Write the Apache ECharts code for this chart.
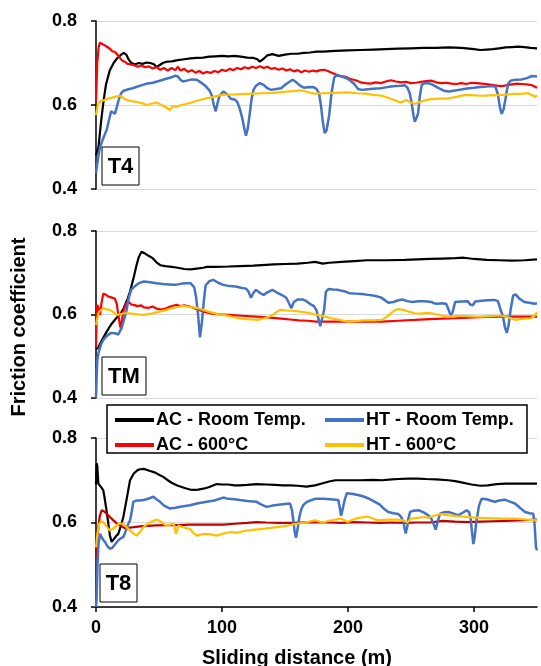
<!DOCTYPE html>
<html>
<head>
<meta charset="utf-8">
<script src="https://cdn.jsdelivr.net/npm/echarts@6/dist/echarts.min.js"></script>
<style>
html,body{margin:0;padding:0;background:#fff;}
#chart{width:541px;height:666px;}
</style>
</head>
<body>
<div id="chart"></div>
<script>
// ---------- DATA (sliding distance m, friction coefficient) ----------
const seriesNames = ['AC - Room Temp.', 'HT - Room Temp.', 'AC - 600°C', 'HT - 600°C'];
const panelLabels = ['T4', 'TM', 'T8'];
const xTicks = [0, 100, 200, 300];
const yTicks = [0.4, 0.6, 0.8];

// T4
const t4_acRT = [[0,0.48],[1,0.49],[2,0.50],[4,0.56],[6,0.61],[8,0.65],[11,0.683],[14,0.700],[17,0.712],[20,0.720],[22,0.724],[24,0.720],[26,0.708],[28,0.700],[31,0.697],[34,0.700],[37,0.698],[40,0.701],[43,0.700],[46,0.697],[48,0.690],[50,0.694],[53,0.700],[56,0.703],[60,0.704],[65,0.707],[70,0.709],[75,0.711],[80,0.712],[85,0.713],[90,0.715],[95,0.716],[100,0.717],[105,0.716],[110,0.717],[115,0.715],[120,0.713],[125,0.712],[128,0.709],[130,0.703],[133,0.710],[136,0.718],[140,0.721],[145,0.717],[150,0.720],[155,0.722],[160,0.722],[165,0.724],[170,0.725],[175,0.727],[180,0.727],[190,0.729],[200,0.730],[210,0.731],[220,0.732],[230,0.733],[240,0.734],[250,0.735],[260,0.736],[270,0.736],[280,0.737],[290,0.736],[300,0.733],[305,0.731],[310,0.732],[315,0.733],[320,0.735],[325,0.737],[330,0.738],[335,0.739],[340,0.738],[345,0.736],[350,0.735]];
const t4_ac600 = [[0,0.61],[1,0.70],[2,0.735],[3,0.748],[4,0.750],[5,0.745],[7,0.742],[9,0.738],[11,0.734],[13,0.728],[15,0.726],[17,0.720],[19,0.712],[21,0.705],[23,0.703],[25,0.698],[27,0.697],[30,0.695],[33,0.691],[36,0.694],[39,0.690],[42,0.692],[45,0.687],[48,0.690],[51,0.684],[54,0.688],[57,0.682],[60,0.688],[63,0.683],[65,0.691],[67,0.682],[70,0.686],[73,0.679],[76,0.683],[79,0.677],[82,0.681],[85,0.675],[88,0.679],[91,0.676],[94,0.681],[97,0.678],[100,0.684],[103,0.681],[106,0.686],[109,0.683],[112,0.688],[115,0.685],[118,0.690],[121,0.687],[124,0.691],[127,0.688],[130,0.692],[133,0.688],[136,0.691],[139,0.686],[142,0.688],[145,0.684],[148,0.687],[151,0.682],[154,0.685],[157,0.680],[160,0.683],[163,0.678],[166,0.682],[169,0.679],[172,0.682],[175,0.680],[178,0.683],[181,0.684],[184,0.681],[187,0.677],[190,0.673],[194,0.669],[198,0.667],[202,0.662],[206,0.659],[210,0.654],[214,0.652],[218,0.651],[222,0.654],[226,0.652],[230,0.656],[234,0.659],[238,0.656],[242,0.654],[246,0.655],[250,0.652],[254,0.653],[258,0.655],[262,0.657],[266,0.658],[270,0.654],[274,0.652],[278,0.653],[282,0.651],[286,0.650],[290,0.652],[294,0.650],[298,0.653],[302,0.652],[306,0.651],[310,0.650],[314,0.648],[318,0.646],[322,0.645],[326,0.647],[330,0.649],[334,0.651],[338,0.650],[342,0.649],[346,0.647],[350,0.641]];
const t4_htRT = [[0,0.438],[1,0.46],[2,0.48],[3,0.497],[5,0.515],[7,0.530],[8.5,0.541],[10,0.560],[12,0.585],[13.5,0.583],[15,0.579],[16.5,0.595],[18,0.612],[20,0.628],[22,0.634],[25,0.637],[29,0.640],[33,0.644],[37,0.648],[41,0.651],[45,0.653],[50,0.657],[55,0.662],[60,0.666],[63,0.670],[65,0.668],[67,0.660],[69,0.656],[72,0.658],[76,0.661],[80,0.660],[84,0.652],[87,0.645],[90,0.635],[92,0.622],[93.5,0.600],[95,0.585],[96.5,0.605],[98,0.622],[101,0.632],[104,0.626],[107,0.615],[110,0.613],[112,0.608],[114,0.592],[116,0.570],[118,0.540],[119,0.527],[120.5,0.545],[122,0.579],[123.5,0.615],[125,0.636],[127,0.646],[130,0.652],[133,0.648],[136,0.640],[139,0.636],[143,0.638],[147,0.640],[150,0.648],[153,0.654],[156,0.660],[159,0.654],[162,0.646],[165,0.641],[169,0.643],[173,0.642],[175,0.638],[177,0.628],[178.5,0.600],[180,0.560],[181.5,0.533],[183,0.540],[185,0.575],[187,0.630],[189,0.665],[191,0.671],[195,0.668],[198,0.665],[201,0.660],[205,0.650],[208,0.638],[211,0.636],[214,0.637],[218,0.638],[222,0.639],[226,0.640],[230,0.642],[234,0.644],[238,0.645],[242,0.646],[245,0.647],[247,0.642],[249,0.628],[250.5,0.605],[252,0.575],[253,0.560],[254.5,0.570],[255.6,0.580],[257,0.620],[258.5,0.648],[261,0.652],[263.5,0.652],[266,0.650],[269,0.645],[272,0.640],[276,0.634],[280,0.632],[284,0.634],[288,0.636],[292,0.638],[296,0.640],[300,0.641],[305,0.643],[310,0.644],[314,0.645],[317,0.644],[319,0.625],[320.5,0.595],[322,0.579],[323.5,0.590],[325,0.615],[327,0.650],[329,0.658],[333,0.660],[338,0.661],[342,0.664],[346,0.669],[350,0.668]];
const t4_ht600 = [[0,0.576],[1.5,0.600],[3,0.608],[6,0.611],[9,0.615],[12,0.617],[16,0.620],[19,0.622],[22,0.616],[25,0.611],[29,0.609],[33,0.607],[37,0.604],[40,0.600],[44,0.603],[48,0.606],[52,0.600],[56,0.594],[58.5,0.588],[61,0.597],[64,0.596],[68,0.600],[72,0.603],[76,0.606],[80,0.610],[84,0.613],[88,0.616],[94,0.620],[100,0.624],[108,0.625],[116,0.626],[124,0.627],[132,0.628],[140,0.629],[148,0.631],[156,0.633],[163,0.635],[168,0.631],[173,0.627],[180,0.628],[190,0.629],[200,0.630],[207,0.628],[214,0.627],[220,0.624],[227,0.622],[233,0.616],[238,0.610],[242,0.606],[246,0.612],[250,0.606],[253,0.603],[257,0.607],[261,0.611],[266,0.614],[272,0.615],[280,0.616],[287,0.620],[293,0.624],[300,0.623],[306,0.622],[314,0.623],[322,0.624],[330,0.626],[338,0.627],[343,0.628],[346,0.624],[348,0.619],[350,0.623]];

// TM
const tm_acRT = [[0,0.516],[2,0.522],[5,0.540],[8.5,0.559],[12,0.576],[16,0.591],[19,0.600],[22,0.615],[25,0.637],[27,0.655],[30,0.690],[32,0.716],[34,0.738],[36,0.750],[39,0.746],[42,0.740],[45,0.735],[48,0.725],[51,0.718],[55,0.716],[60,0.714],[65,0.712],[70,0.709],[75,0.708],[80,0.710],[85,0.712],[88,0.714],[95,0.714],[105,0.715],[114,0.716],[125,0.717],[135,0.719],[141,0.720],[150,0.721],[160,0.722],[168,0.724],[174,0.726],[180,0.722],[185,0.724],[195,0.726],[205,0.728],[215,0.730],[230,0.730],[245,0.731],[255,0.732],[265,0.733],[275,0.734],[285,0.735],[292,0.736],[300,0.733],[310,0.731],[320,0.730],[330,0.729],[340,0.730],[350,0.732]];
const tm_ac600 = [[0,0.52],[0.5,0.60],[1,0.623],[2,0.615],[3.2,0.599],[4.5,0.630],[5.8,0.650],[7.5,0.648],[9.8,0.643],[12,0.641],[15,0.638],[16.5,0.625],[17.7,0.599],[19,0.575],[19.6,0.568],[20.5,0.585],[21.7,0.607],[23.5,0.624],[25.6,0.631],[28,0.624],[30,0.623],[33,0.620],[36,0.622],[38,0.617],[42,0.616],[45,0.619],[48,0.614],[52,0.612],[55,0.614],[58,0.618],[61,0.621],[64,0.623],[67,0.620],[70,0.622],[74.6,0.619],[78,0.615],[82,0.611],[85,0.607],[88,0.605],[92,0.602],[96,0.601],[101,0.600],[106,0.599],[111,0.598],[116,0.597],[121,0.596],[127,0.595],[133,0.594],[140,0.592],[147,0.590],[154,0.588],[161,0.586],[168,0.585],[175,0.583],[185,0.583],[195,0.583],[205,0.583],[215,0.583],[227,0.583],[240,0.585],[253,0.587],[265,0.589],[275,0.590],[285,0.591],[300,0.593],[310,0.594],[320,0.595],[335,0.595],[350,0.595]];
const tm_htRT = [[0,0.40],[0.5,0.45],[1,0.49],[2,0.508],[4,0.528],[6,0.540],[9,0.550],[12,0.556],[15,0.555],[17.7,0.552],[19,0.560],[20.4,0.568],[22,0.585],[24,0.607],[26,0.640],[28,0.660],[31,0.668],[34,0.675],[38,0.679],[43,0.677],[48,0.675],[53,0.673],[58,0.672],[63,0.671],[68,0.674],[72,0.675],[75,0.675],[78,0.665],[79.5,0.640],[81,0.600],[82.5,0.545],[84,0.580],[85.5,0.630],[87,0.670],[90,0.680],[93,0.683],[97,0.676],[101,0.671],[106,0.668],[111,0.667],[115,0.664],[119,0.662],[121,0.655],[123,0.640],[125,0.652],[127,0.659],[130,0.652],[133,0.647],[136,0.653],[140,0.659],[144,0.652],[148,0.646],[151,0.640],[153,0.628],[155,0.615],[157,0.630],[160,0.636],[164,0.636],[167,0.632],[170,0.625],[173,0.620],[175,0.610],[176.5,0.590],[178,0.572],[179.5,0.575],[181,0.610],[182.5,0.655],[184.5,0.661],[188,0.660],[192,0.659],[195,0.657],[198,0.655],[201,0.651],[206,0.650],[211,0.649],[216,0.647],[221,0.645],[226,0.641],[229,0.635],[232,0.628],[236,0.630],[240,0.634],[243,0.636],[247,0.632],[251,0.630],[256,0.632],[261,0.632],[266,0.630],[268,0.627],[271,0.626],[275,0.627],[278,0.625],[280,0.610],[281.5,0.598],[283,0.605],[285,0.630],[290,0.631],[295,0.632],[297,0.624],[299,0.622],[301,0.631],[306,0.633],[311,0.634],[316,0.635],[319,0.632],[321,0.612],[323,0.595],[324.5,0.570],[326,0.556],[327.5,0.575],[329,0.610],[331,0.645],[333,0.648],[336,0.638],[340,0.630],[344,0.628],[348,0.626],[350,0.627]];
const tm_ht600 = [[0,0.575],[1,0.590],[1.9,0.603],[3.5,0.610],[5.8,0.615],[8,0.613],[11,0.611],[14,0.605],[16.4,0.599],[19,0.601],[22,0.603],[27,0.603],[31,0.601],[35,0.600],[37.6,0.599],[41,0.601],[45,0.603],[48,0.605],[52,0.608],[56,0.611],[61,0.616],[65,0.618],[69,0.621],[73,0.619],[77,0.617],[80,0.616],[84,0.612],[88,0.608],[93,0.604],[97,0.601],[101,0.599],[106,0.596],[110,0.593],[114,0.591],[119,0.589],[124,0.588],[127.5,0.587],[131,0.589],[135,0.592],[138,0.596],[141,0.600],[143,0.605],[146,0.611],[150,0.610],[155,0.609],[159,0.608],[164,0.606],[169,0.604],[174,0.600],[180,0.596],[187,0.591],[193,0.587],[200,0.583],[206,0.584],[213,0.586],[220,0.586],[227,0.587],[231,0.595],[234,0.603],[237,0.610],[240,0.613],[244,0.611],[248,0.607],[253,0.603],[258,0.602],[262,0.604],[266,0.603],[271,0.600],[275,0.597],[280,0.595],[285,0.596],[290,0.597],[296,0.596],[301,0.595],[306,0.595],[312,0.596],[318,0.597],[322,0.597],[326,0.594],[330,0.590],[333,0.587],[337,0.589],[341,0.590],[345,0.591],[348,0.597],[350,0.605]];

// T8
const t8_acRT = [[0,0.69],[0.5,0.740],[1,0.735],[1.9,0.692],[3,0.690],[4.5,0.682],[5.8,0.676],[7,0.655],[8.5,0.625],[9.8,0.597],[11,0.570],[12.4,0.554],[14,0.560],[16,0.568],[17.7,0.573],[19.5,0.590],[21.7,0.613],[24,0.650],[27,0.700],[30,0.716],[33,0.724],[35,0.726],[38,0.727],[42.9,0.722],[47,0.718],[50,0.713],[53.4,0.708],[57,0.700],[60,0.694],[64,0.688],[68,0.684],[71,0.681],[74.6,0.678],[78,0.677],[81,0.678],[85.2,0.680],[90,0.684],[95.8,0.691],[100,0.690],[105,0.690],[110,0.688],[114,0.688],[120,0.689],[127.5,0.691],[135,0.690],[142,0.689],[148,0.688],[154,0.688],[160,0.687],[167,0.685],[173.8,0.688],[180,0.693],[185,0.697],[190,0.700],[200,0.700],[210,0.700],[220,0.701],[227,0.700],[235,0.702],[240,0.703],[248,0.704],[255,0.704],[262,0.703],[270,0.702],[279.6,0.700],[285,0.698],[290,0.695],[298,0.690],[305,0.687],[311,0.688],[318,0.691],[325,0.692],[332.5,0.692],[340,0.692],[345,0.692],[350,0.692]];
const t8_ac600 = [[0,0.518],[0.8,0.560],[1.9,0.589],[3,0.615],[4.5,0.629],[6.5,0.626],[8.5,0.621],[11,0.613],[13.8,0.605],[16.5,0.598],[19,0.593],[21.5,0.589],[24.3,0.585],[27,0.588],[30,0.589],[35,0.591],[40,0.592],[48.1,0.593],[56,0.594],[65,0.594],[74.6,0.595],[85,0.595],[95,0.595],[101,0.595],[110,0.597],[120,0.599],[127.5,0.601],[135,0.600],[145,0.599],[154,0.599],[163,0.600],[173.8,0.601],[185,0.600],[195,0.599],[205,0.601],[215,0.600],[225,0.599],[235,0.600],[245,0.599],[255,0.600],[265,0.600],[275,0.604],[285,0.602],[295,0.601],[305,0.602],[315,0.603],[325,0.604],[335,0.605],[345,0.606],[350,0.607]];
const t8_htRT = [[0,0.40],[0.5,0.42],[1.2,0.50],[2,0.550],[3.2,0.573],[5,0.562],[7.1,0.554],[9,0.544],[11,0.538],[13,0.540],[15,0.548],[17.7,0.558],[19.5,0.562],[21.7,0.566],[23,0.575],[24.5,0.588],[25.7,0.597],[27,0.605],[28.3,0.625],[29.6,0.649],[32,0.652],[35,0.652],[37.6,0.653],[40,0.655],[43,0.658],[45.5,0.661],[48,0.655],[50.8,0.649],[54,0.640],[58.7,0.633],[63,0.635],[68,0.638],[74.6,0.641],[80,0.645],[87.8,0.649],[94,0.652],[101,0.659],[105,0.656],[110,0.655],[114,0.653],[120,0.651],[127.5,0.649],[131,0.643],[135.4,0.637],[140,0.640],[145,0.642],[150,0.644],[154,0.645],[155.5,0.630],[156.6,0.605],[157.6,0.580],[158.7,0.564],[160,0.585],[161.4,0.613],[163,0.632],[164.5,0.641],[167,0.648],[170,0.652],[173.8,0.656],[180,0.656],[186,0.655],[192.3,0.653],[193.5,0.635],[194.5,0.616],[195.5,0.628],[196.4,0.641],[197.5,0.655],[199,0.669],[203,0.668],[208,0.665],[213,0.661],[217,0.656],[221.4,0.649],[225,0.643],[228,0.634],[232,0.625],[236,0.622],[240,0.620],[242,0.614],[244,0.602],[245,0.585],[245.8,0.574],[247,0.590],[248,0.610],[249.3,0.625],[252,0.628],[256,0.629],[260,0.624],[263.8,0.617],[266,0.610],[268,0.596],[269.6,0.583],[271,0.600],[273,0.621],[276,0.624],[279.6,0.625],[284,0.621],[287.5,0.617],[291,0.623],[294.2,0.629],[296,0.625],[297.3,0.610],[298.5,0.575],[299.5,0.549],[300.5,0.565],[302,0.605],[304,0.640],[306,0.656],[310,0.655],[313,0.652],[316.6,0.649],[320,0.652],[324.5,0.654],[328,0.650],[332.5,0.645],[336,0.636],[340.5,0.625],[344,0.622],[347,0.621],[348,0.600],[349.2,0.541],[350,0.534]];
const t8_ht600 = [[0,0.541],[1.2,0.575],[2.6,0.597],[4,0.603],[5.8,0.601],[8,0.592],[11,0.581],[13.5,0.585],[16.4,0.593],[18.5,0.598],[21.7,0.597],[24,0.590],[27,0.581],[30,0.573],[32.3,0.569],[35,0.578],[37.6,0.589],[41,0.597],[44,0.602],[48.1,0.607],[51,0.603],[53.5,0.597],[56,0.593],[58.7,0.595],[61.4,0.597],[62.5,0.590],[63.4,0.573],[64.5,0.582],[65.3,0.593],[68,0.590],[71,0.587],[74.6,0.585],[77,0.576],[80,0.569],[84,0.572],[87.8,0.573],[91,0.572],[95.8,0.569],[100,0.573],[106.3,0.577],[112,0.576],[119.5,0.581],[126,0.583],[132.8,0.585],[140,0.588],[148.6,0.591],[154,0.594],[159,0.597],[166,0.600],[173.8,0.605],[180,0.600],[185,0.604],[190,0.607],[194.5,0.609],[197,0.606],[199.7,0.601],[203,0.606],[207,0.610],[211,0.612],[215.6,0.614],[219,0.610],[223.5,0.605],[228,0.606],[234,0.607],[239.5,0.607],[244,0.605],[247,0.600],[250,0.609],[255,0.611],[260.5,0.613],[264,0.611],[268,0.616],[273.8,0.620],[280,0.617],[286,0.615],[292,0.614],[299,0.612],[306,0.611],[315,0.610],[324,0.609],[332.5,0.609],[342,0.607],[350,0.605]];

// ---------- STYLE ----------
const FONT = 'Liberation Sans, Arial, sans-serif';
const colors = { acRT: '#000000', htRT: '#4472C4', ac600: '#FF0000', ac600dark: '#C00000', ht600: '#FFC000' };
const panelData = [
  { acRT: t4_acRT, ac600: t4_ac600, htRT: t4_htRT, ht600: t4_ht600, redColor: colors.ac600 },
  { acRT: tm_acRT, ac600: tm_ac600, htRT: tm_htRT, ht600: tm_ht600, redColor: colors.ac600 },
  { acRT: t8_acRT, ac600: t8_ac600, htRT: t8_htRT, ht600: t8_ht600, redColor: colors.ac600dark }
];
const grids = [
  { left: 96, top: 21, width: 441, height: 168 },
  { left: 96, top: 231, width: 441, height: 167 },
  { left: 96, top: 438, width: 441, height: 169 }
];
const labelBoxes = [
  { x: 102, y: 147, w: 37, h: 38 },
  { x: 102, y: 357, w: 44, h: 38 },
  { x: 100, y: 564, w: 37, h: 38 }
];

const xAxes = grids.map((g, i) => ({
  type: 'value', gridIndex: i, min: xTicks[0], max: 350, interval: 100,
  axisLine: { show: i === 2, onZero: false, lineStyle: { color: '#000', width: 1.5 } },
  axisTick: { show: i === 2, length: 5, customValues: xTicks, lineStyle: { color: '#000', width: 1.5 } },
  axisLabel: { show: i === 2, margin: 12, customValues: xTicks, color: '#000', fontSize: 18, fontWeight: 'bold', fontFamily: FONT },
  splitLine: { show: false }
}));
const yAxes = grids.map((g, i) => ({
  type: 'value', gridIndex: i, min: yTicks[0], max: yTicks[yTicks.length - 1], interval: 0.2,
  axisLine: { show: true, lineStyle: { color: '#000', width: 1.5 } },
  axisTick: { show: true, length: 5, lineStyle: { color: '#000', width: 1.5 } },
  axisLabel: { margin: 19, color: '#000', fontSize: 18, fontWeight: 'bold', fontFamily: FONT, formatter: v => v.toFixed(1) },
  splitLine: { show: true, lineStyle: { color: '#d9d9d9', width: 1 } }
}));

const series = [];
panelData.forEach((p, i) => {
  const mk = (name, data, color, width) => ({
    type: 'line', name, data, xAxisIndex: i, yAxisIndex: i, symbol: 'none', showSymbol: false, smooth: false,
    lineStyle: { color, width }, itemStyle: { color }, z: 2
  });
  series.push(mk(seriesNames[0], p.acRT, colors.acRT, 2.2));
  series.push(mk(seriesNames[2], p.ac600, p.redColor, 2.2));
  series.push(mk(seriesNames[1], p.htRT, colors.htRT, 2.5));
  series.push(mk(seriesNames[3], p.ht600, colors.ht600, 2.2));
});

const legendCommon = {
  orient: 'vertical', top: 406, icon: 'rect', itemWidth: 39, itemHeight: 4, itemGap: 7,
  textStyle: { color: '#000', fontSize: 18, fontWeight: 'bold', fontFamily: FONT, padding: [0, 0, 0, -3] },
  z: 10
};

const graphics = [
  { type: 'rect', shape: { x: 107, y: 405, width: 420, height: 48 }, style: { fill: '#fff', stroke: '#000', lineWidth: 1.5 }, z: 5 }
];
labelBoxes.forEach((b, i) => {
  graphics.push({ type: 'rect', shape: { x: b.x, y: b.y, width: b.w, height: b.h }, style: { fill: '#fff', stroke: '#000', lineWidth: 1 }, z: 5 });
  graphics.push({ type: 'text', x: b.x + b.w / 2, y: b.y + b.h / 2 + 1, z: 6,
    style: { text: panelLabels[i], fill: '#000', font: 'bold 22px ' + FONT, textAlign: 'center', textVerticalAlign: 'middle' } });
});
graphics.push({ type: 'text', x: 19, y: 327, rotation: Math.PI / 2, z: 6,
  style: { text: 'Friction coefficient', fill: '#000', font: 'bold 20px ' + FONT, textAlign: 'center', textVerticalAlign: 'middle' } });
graphics.push({ type: 'text', x: 297, y: 658, z: 6,
  style: { text: 'Sliding distance (m)', fill: '#000', font: 'bold 20px ' + FONT, textAlign: 'center', textVerticalAlign: 'middle' } });

const option = {
  animation: false,
  backgroundColor: '#fff',
  grid: grids,
  xAxis: xAxes,
  yAxis: yAxes,
  legend: [
    Object.assign({}, legendCommon, { left: 110, data: [seriesNames[0], seriesNames[2]] }),
    Object.assign({}, legendCommon, { left: 320, data: [seriesNames[1], seriesNames[3]] })
  ],
  graphic: graphics,
  series
};
const chart = echarts.init(document.getElementById('chart'), null, { renderer: 'canvas' });
chart.setOption(option);
</script>
</body>
</html>
